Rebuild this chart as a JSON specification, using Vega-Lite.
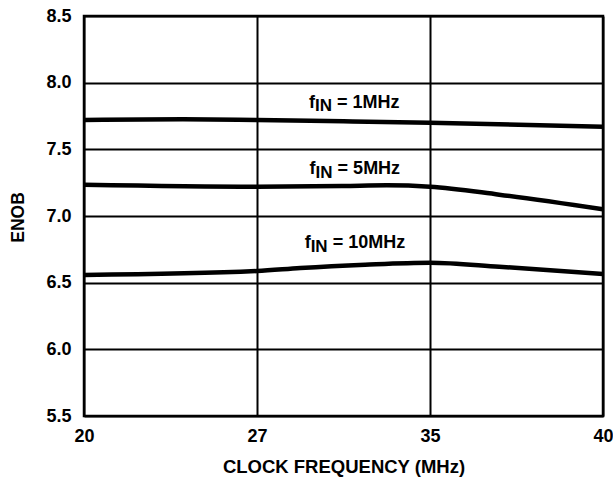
{
  "$schema": "https://vega.github.io/schema/vega-lite/v6.json",
  "width": 519,
  "height": 400,
  "autosize": "none",
  "padding": {"left": 84, "top": 16, "right": 10, "bottom": 63},
  "background": "white",
  "config": {
    "view": {"stroke": "black", "strokeWidth": 2.5},
    "font": "Liberation Sans"
  },
  "datasets": {
    "curves": [
      {"freq": 20, "enob": 7.72, "series": "1MHz"},
      {"freq": 24, "enob": 7.725, "series": "1MHz"},
      {"freq": 27, "enob": 7.72, "series": "1MHz"},
      {"freq": 31, "enob": 7.71, "series": "1MHz"},
      {"freq": 35, "enob": 7.70, "series": "1MHz"},
      {"freq": 40, "enob": 7.67, "series": "1MHz"},
      {"freq": 20, "enob": 7.235, "series": "5MHz"},
      {"freq": 27, "enob": 7.22, "series": "5MHz"},
      {"freq": 31, "enob": 7.225, "series": "5MHz"},
      {"freq": 33, "enob": 7.23, "series": "5MHz"},
      {"freq": 35, "enob": 7.22, "series": "5MHz"},
      {"freq": 37, "enob": 7.16, "series": "5MHz"},
      {"freq": 40, "enob": 7.05, "series": "5MHz"},
      {"freq": 20, "enob": 6.557, "series": "10MHz"},
      {"freq": 27, "enob": 6.587, "series": "10MHz"},
      {"freq": 29, "enob": 6.61, "series": "10MHz"},
      {"freq": 32, "enob": 6.635, "series": "10MHz"},
      {"freq": 35, "enob": 6.65, "series": "10MHz"},
      {"freq": 37, "enob": 6.62, "series": "10MHz"},
      {"freq": 40, "enob": 6.565, "series": "10MHz"}
    ],
    "labels": [
      {"freq": 29.68, "enob": 7.812, "rest": "= 1MHz"},
      {"freq": 29.71, "enob": 7.315, "rest": "= 5MHz"},
      {"freq": 29.48, "enob": 6.757, "rest": "= 10MHz"}
    ]
  },
  "encoding": {
    "x": {
      "field": "freq",
      "type": "quantitative",
      "scale": {"domain": [20, 27, 35, 40], "range": [0, 173, 346, 519], "nice": false, "zero": false},
      "axis": {
        "values": [20, 27, 35, 40],
        "grid": true,
        "gridColor": "black",
        "gridWidth": 2,
        "gridOpacity": 1,
        "domain": false,
        "ticks": false,
        "labelFont": "Liberation Sans",
        "labelFontSize": 18,
        "labelFontWeight": "bold",
        "labelColor": "black",
        "labelPadding": 11,
        "labelFlush": false,
        "labelOverlap": false,
        "title": "CLOCK FREQUENCY (MHz)",
        "titleFont": "Liberation Sans",
        "titleFontSize": 18.5,
        "titleFontWeight": "bold",
        "titleColor": "black",
        "titleX": 259.5,
        "titleY": 50.5,
        "titleBaseline": "middle",
        "titleAlign": "center"
      }
    },
    "y": {
      "field": "enob",
      "type": "quantitative",
      "scale": {"domain": [5.5, 8.5], "nice": false, "zero": false},
      "axis": {
        "values": [5.5, 6.0, 6.5, 7.0, 7.5, 8.0, 8.5],
        "format": ".1f",
        "grid": true,
        "gridColor": "black",
        "gridWidth": 2,
        "gridOpacity": 1,
        "domain": false,
        "ticks": false,
        "labelFont": "Liberation Sans",
        "labelFontSize": 18,
        "labelFontWeight": "bold",
        "labelColor": "black",
        "labelPadding": 13,
        "labelFlush": false,
        "labelOverlap": false,
        "title": "ENOB",
        "titleFont": "Liberation Sans",
        "titleFontSize": 17.5,
        "titleFontWeight": "bold",
        "titleColor": "black",
        "titleAngle": 270,
        "titleX": -65.5,
        "titleY": 201,
        "titleAlign": "center",
        "titleBaseline": "middle"
      }
    }
  },
  "layer": [
    {
      "data": {"name": "curves"},
      "mark": {"type": "line", "color": "black", "strokeWidth": 4.5, "interpolate": "monotone"},
      "encoding": {"detail": {"field": "series"}}
    },
    {
      "data": {"name": "labels"},
      "mark": {"type": "text", "text": "f", "align": "right", "baseline": "alphabetic", "font": "Liberation Sans", "fontSize": 18, "fontWeight": "bold", "color": "black"}
    },
    {
      "data": {"name": "labels"},
      "mark": {"type": "text", "text": "IN", "align": "left", "baseline": "alphabetic", "dy": 3.5, "font": "Liberation Sans", "fontSize": 17, "fontWeight": "bold", "color": "black"}
    },
    {
      "data": {"name": "labels"},
      "mark": {"type": "text", "align": "left", "baseline": "alphabetic", "dx": 22, "font": "Liberation Sans", "fontSize": 18, "fontWeight": "bold", "color": "black"},
      "encoding": {"text": {"field": "rest"}}
    }
  ]
}
